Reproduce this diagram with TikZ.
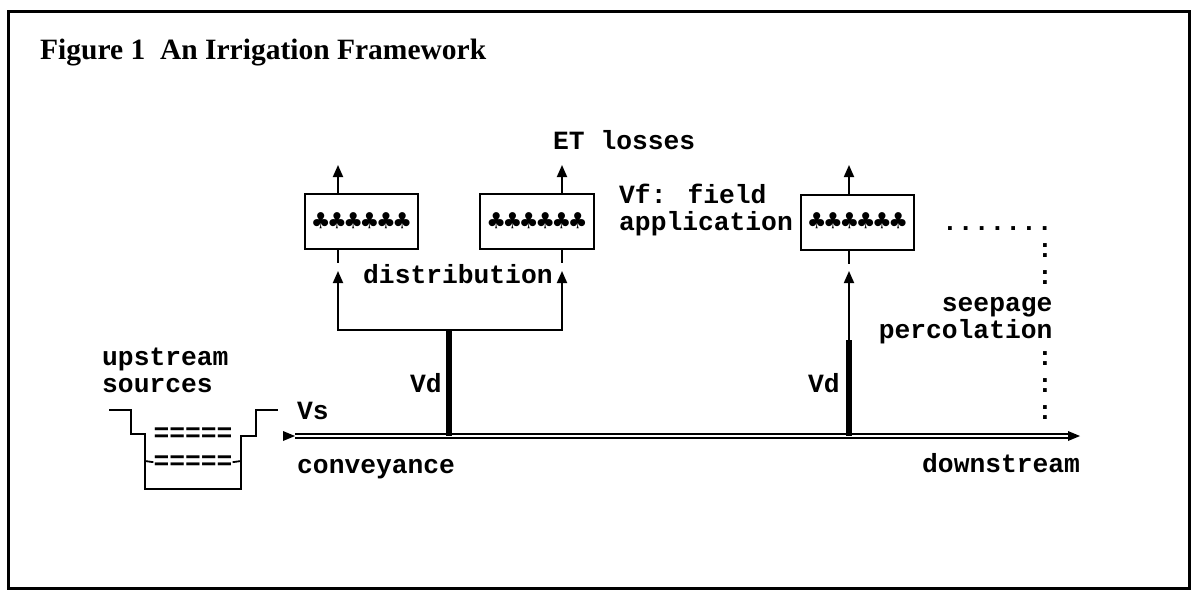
\documentclass[tikz,border=0pt]{standalone}
\usepackage{fontspec}
\setmainfont{Liberation Serif}
\newfontfamily\monofnt{Liberation Mono}
\newfontfamily\clubfnt{DejaVu Sans Mono}
\usetikzlibrary{arrows.meta}
\begin{document}
\begin{tikzpicture}[x=1pt,y=-1pt,
  lbl/.style={inner sep=0pt, font=\monofnt\bfseries\fontsize{26.3}{27}\selectfont},
  fieldbox/.style={draw, line width=2pt, minimum width=113pt, minimum height=55pt, inner sep=0pt,
    font=\clubfnt\fontsize{27}{27}\selectfont},
  flow/.style={line width=1.8pt},
  uparrow/.style={flow, -{Triangle[length=12pt,width=10pt]}},
  vdline/.style={line width=5.5pt},
  mainline/.style={double, double distance=2pt, line width=1.6pt},
  wall/.style={line width=2pt}
]
\useasboundingbox (0,0) rectangle (1192,590);
\draw[line width=3pt] (8,11.5) rectangle (1189.5,588.5);

% title
\node[anchor=base west, inner sep=0pt, font=\bfseries\fontsize{29.5}{31}\selectfont] (title) at (40,59) {Figure 1\ \ An Irrigation Framework};

% field boxes
\node[fieldbox] (b1) at (361.5,221.5) {♣♣♣♣♣♣};
\node[fieldbox, minimum width=114pt] (b2) at (537,221.5) {♣♣♣♣♣♣};
\node[fieldbox] (b3) at (857.5,222) {♣♣♣♣♣♣};

% ET arrows
\coordinate (t1) at (338,165);
\coordinate (t2) at (562,165);
\coordinate (t3) at (849,165);
\draw[uparrow] (t1 |- b1.north) -- (t1);
\draw[uparrow] (t2 |- b2.north) -- (t2);
\draw[uparrow] (t3 |- b3.north) -- (t3);

% stubs below boxes
\draw[flow] (t1 |- b1.south) -- ++(0,13);
\draw[flow] (t2 |- b2.south) -- ++(0,13);
\draw[flow] (t3 |- b3.south) -- ++(0,13);

% main conveyance line
\coordinate (ms) at (295,436);
\coordinate (me) at (1080,436);
\draw[mainline] (ms) -- ([xshift=-11pt]me);
\fill (me) -- ++(-12,-5) -- ++(0,10) -- cycle;
\fill (ms) -- ++(-12,-5) -- ++(0,10) -- cycle;

% distribution
\coordinate (d1) at (338,271);
\coordinate (d2) at (562,271);
\coordinate (j1) at (449,330);
\draw[uparrow] (j1) -| (d1);
\draw[uparrow] (j1) -| (d2);
\draw[vdline] (j1) -- (j1 |- ms);

% second offtake
\coordinate (d3) at (849,271);
\coordinate (j2) at (849,340);
\draw[uparrow] (j2 |- ms) -- (d3);
\draw[vdline] (j2) -- (j2 |- ms);

% upstream sources symbol
\draw[wall] (109,410) -- (131,410) -- (131,434) -- (145,434) -- (145,489) -- (241,489) -- (241,436) -- (256,436) -- (256,410) -- (278,410);
\node[lbl, anchor=base] (eq1) at (193,441) {=====};
\node[lbl, anchor=base] (eq2) at (193,469) {=====};
\draw[flow] (145,461) -- (eq2.west);
\draw[flow] (eq2.east) -- (241,461);

% labels
\node[lbl, anchor=base west] (et) at (553,149) {ET losses};
\node[lbl, anchor=base west] (vf) at (619,203) {Vf: field};
\node[lbl, anchor=base west] (app) at (619,230) {application};
\node[lbl, anchor=base west] (dist) at (363,283) {distribution};
\node[lbl, anchor=base west] (dots) at (942,230) {.......};
\node[lbl, anchor=base west] (c1) at (1036.8,257) {:};
\node[lbl, anchor=base west] (c2) at (1036.8,284) {:};
\node[lbl, anchor=base east] (seep) at (1052.6,311) {seepage};
\node[lbl, anchor=base east] (perc) at (1052.6,338) {percolation};
\node[lbl, anchor=base west] (c3) at (1036.8,365) {:};
\node[lbl, anchor=base west] (c4) at (1036.8,392) {:};
\node[lbl, anchor=base west] (c5) at (1036.8,419) {:};
\node[lbl, anchor=base west] (up) at (102,365) {upstream};
\node[lbl, anchor=base west] (src) at (102,392) {sources};
\node[lbl, anchor=base west] (vd1) at (410,392) {Vd};
\node[lbl, anchor=base west] (vd2) at (808,392) {Vd};
\node[lbl, anchor=base west] (vs) at (297,419) {Vs};
\node[lbl, anchor=base west] (conv) at (297,473) {conveyance};
\node[lbl, anchor=base west] (down) at (922,472) {downstream};
\end{tikzpicture}
\end{document}
